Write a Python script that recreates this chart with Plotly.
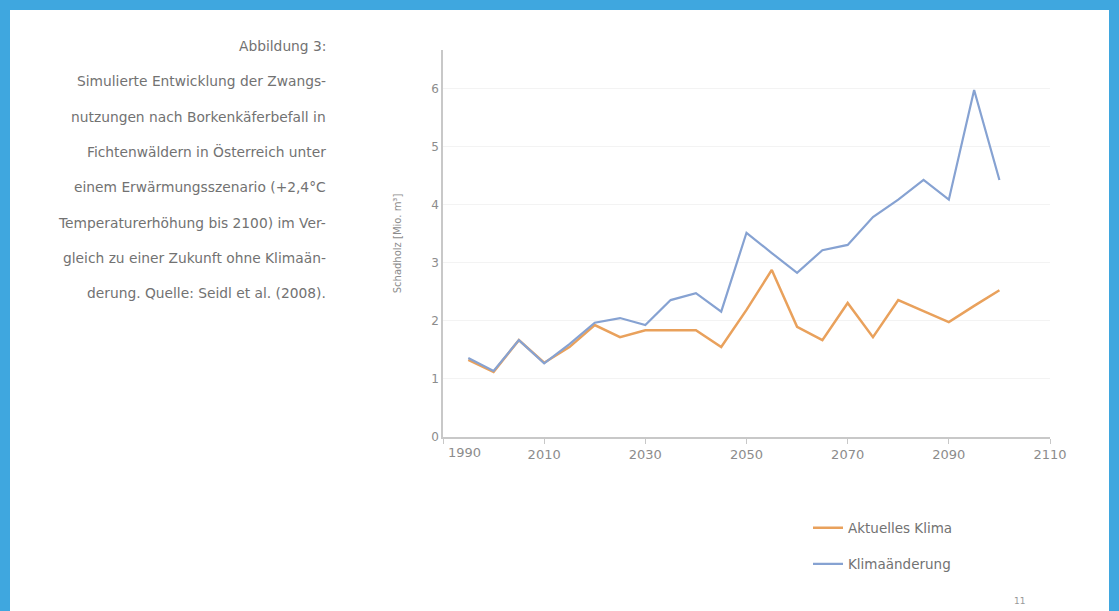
import plotly.graph_objects as go

# ---------------- data ----------------
years = [1995, 2000, 2005, 2010, 2015, 2020, 2025, 2030, 2035, 2040, 2045,
         2050, 2055, 2060, 2065, 2070, 2075, 2080, 2085, 2090, 2095, 2100]
aktuelles_klima = [1.33, 1.12, 1.67, 1.28, 1.55, 1.93, 1.72, 1.84, 1.84, 1.84, 1.55,
                   2.19, 2.88, 1.90, 1.67, 2.31, 1.72, 2.36, 2.17, 1.98, 2.26, 2.53]
klimaaenderung = [1.36, 1.14, 1.67, 1.27, 1.60, 1.97, 2.05, 1.93, 2.36, 2.48, 2.16,
                  3.52, 3.17, 2.83, 3.22, 3.31, 3.79, 4.09, 4.43, 4.09, 5.98, 4.43]
series_names = ["Aktuelles Klima", "Klimaänderung"]
x_tickvals = [1990, 2010, 2030, 2050, 2070, 2090, 2110]
x_ticktext = ["", "2010", "2030", "2050", "2070", "2090", "2110"]
first_x_label = "1990"
y_tickvals = [0, 1, 2, 3, 4, 5, 6]
y_title = "Schadholz [Mio. m³]"
caption_lines = [
    "Abbildung 3:",
    "Simulierte Entwicklung der Zwangs-",
    "nutzungen nach Borkenkäferbefall in",
    "Fichtenwäldern in Österreich unter",
    "einem Erwärmungsszenario (+2,4°C",
    "Temperaturerhöhung bis 2100) im Ver-",
    "gleich zu einer Zukunft ohne Klimaän-",
    "derung. Quelle: Seidl et al. (2008).",
]
page_number = "11"

# ---------------- layout geometry ----------------
W, H = 1119, 611
L, R, T, B = 443, 69, 50, 174
PW, PH = W - L - R, H - T - B


def px(xp):
    return (xp - L) / PW


def py(yp):
    return (H - B - yp) / PH


ORANGE = "#E9A15C"
BLUE = "#86A2D2"
BORDER = "#3FA7DF"
TEXT = "#727272"
TICK = "#8C8C8C"
FONT = "DejaVu Sans, Liberation Sans, Arial, sans-serif"

fig = go.Figure()
fig.add_trace(go.Scatter(x=years, y=aktuelles_klima, mode="lines", name=series_names[0],
                         line=dict(color=ORANGE, width=2.5), legend="legend"))
fig.add_trace(go.Scatter(x=years, y=klimaaenderung, mode="lines", name=series_names[1],
                         line=dict(color=BLUE, width=2.2), legend="legend2"))

annotations = []
for i, line in enumerate(caption_lines):
    annotations.append(dict(text=line, xref="paper", yref="paper", x=px(328),
                            y=py(46 + 35.3 * i), xanchor="right", yanchor="middle",
                            showarrow=False, font=dict(family=FONT, size=13.8, color=TEXT)))
annotations.append(dict(text=first_x_label, xref="x", yref="paper", x=1994.3, y=py(452),
                        xanchor="center", yanchor="middle", showarrow=False,
                        font=dict(family=FONT, size=13, color=TICK)))
annotations.append(dict(text=page_number, xref="paper", yref="paper", x=px(1019), y=py(601),
                        xanchor="center", yanchor="middle", showarrow=False,
                        font=dict(family=FONT, size=9, color="#999999")))

shapes = [
    dict(type="rect", xref="paper", yref="paper", x0=px(0), x1=px(W), y0=py(0), y1=py(10),
         fillcolor=BORDER, line=dict(width=0), layer="above"),
    dict(type="rect", xref="paper", yref="paper", x0=px(0), x1=px(10), y0=py(0), y1=py(H),
         fillcolor=BORDER, line=dict(width=0), layer="above"),
    dict(type="rect", xref="paper", yref="paper", x0=px(W - 10), x1=px(W), y0=py(0), y1=py(H),
         fillcolor=BORDER, line=dict(width=0), layer="above"),
]

fig.update_layout(
    width=W, height=H, autosize=False,
    margin=dict(l=L, r=R, t=T, b=B, pad=0),
    paper_bgcolor="white", plot_bgcolor="white",
    font=dict(family=FONT, color=TEXT),
    showlegend=True,
    legend=dict(x=px(808), y=py(528), xanchor="left", yanchor="middle",
                bgcolor="rgba(0,0,0,0)", font=dict(family=FONT, size=13.5, color=TEXT)),
    legend2=dict(x=px(808), y=py(564), xanchor="left", yanchor="middle",
                 bgcolor="rgba(0,0,0,0)", font=dict(family=FONT, size=13.5, color=TEXT)),
    annotations=annotations,
    shapes=shapes,
    xaxis=dict(range=[1990, 2110], tickvals=x_tickvals, ticktext=x_ticktext,
               showline=True, linecolor="#C8C8C8", linewidth=1.5, showgrid=False,
               zeroline=False, ticks="outside", ticklen=5, tickcolor="#C8C8C8",
               tickfont=dict(family=FONT, size=13, color=TICK)),
    yaxis=dict(range=[0, 6.67], tickvals=y_tickvals, showline=True, linecolor="#C8C8C8",
               linewidth=1.5, showgrid=True, gridcolor="#F3F3F3", zeroline=False,
               ticks="", tickfont=dict(family=FONT, size=12, color=TICK),
               title=dict(text=y_title, standoff=28, font=dict(family=FONT, size=10, color=TICK))),
)

fig.write_html("out.html", config={"displayModeBar": False},
               post_script="document.body.style.margin='0';document.body.style.overflow='hidden';")
